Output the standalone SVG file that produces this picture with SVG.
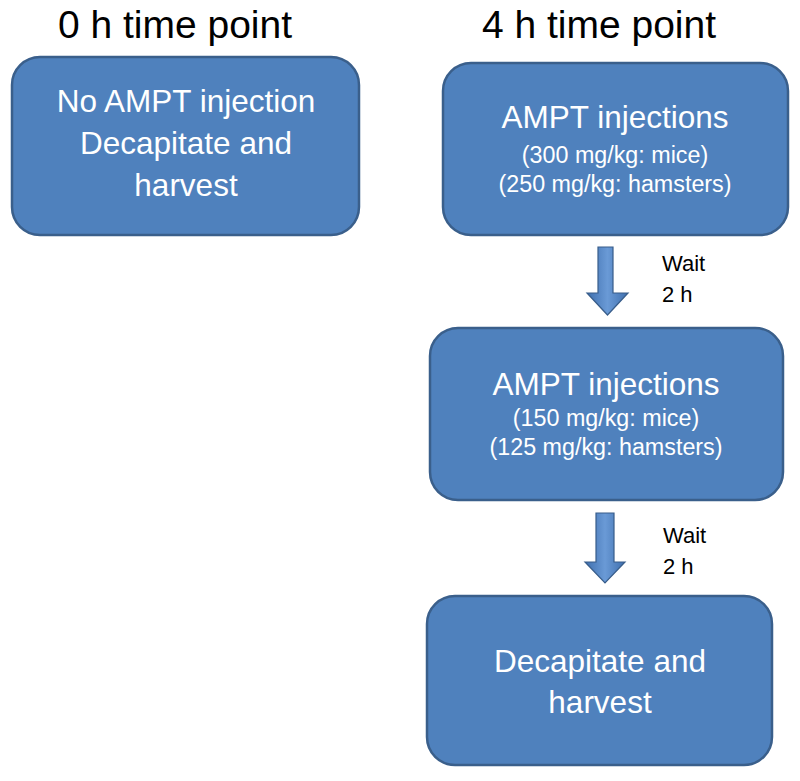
<svg xmlns="http://www.w3.org/2000/svg" width="800" height="781" viewBox="0 0 800 781">
<defs>
<linearGradient id="arrowGrad" x1="0" y1="0" x2="1" y2="0">
<stop offset="0" stop-color="#3f6fae"/>
<stop offset="0.5" stop-color="#6a9ad6"/>
<stop offset="1" stop-color="#3f6fae"/>
</linearGradient>
</defs>
<style>
.box{fill:#4f81bd;stroke:#3a5f8b;stroke-width:2.5}
.title{font-family:"Liberation Sans",Arial,sans-serif;font-size:39px;fill:#000;text-anchor:middle}
.main{font-family:"Liberation Sans",Arial,sans-serif;font-size:31.5px;fill:#fff;text-anchor:middle}
.sub{font-family:"Liberation Sans",Arial,sans-serif;font-size:23.3px;fill:#fff;text-anchor:middle}
.wait{font-family:"Liberation Sans",Arial,sans-serif;font-size:22px;fill:#000}
.arrow{fill:url(#arrowGrad);stroke:#385d8a;stroke-width:1.2}
</style>
<rect width="800" height="781" fill="#fff"/>
<text class="title" x="175" y="38">0 h time point</text>
<text class="title" x="599" y="38">4 h time point</text>
<g id="node-0h">
<rect class="box" x="12" y="57" width="347" height="178" rx="28"/>
<text class="main" x="186" y="112">No AMPT injection</text>
<text class="main" x="186" y="154">Decapitate and</text>
<text class="main" x="186" y="196">harvest</text>
</g>
<g id="node-inj1">
<rect class="box" x="443" y="63" width="345" height="172" rx="28"/>
<text class="main" x="615" y="128">AMPT injections</text>
<text class="sub" x="615" y="163">(300 mg/kg: mice)</text>
<text class="sub" x="615" y="192">(250 mg/kg: hamsters)</text>
</g>
<g id="node-inj2">
<rect class="box" x="430" y="328" width="353" height="172" rx="28"/>
<text class="main" x="606" y="395">AMPT injections</text>
<text class="sub" x="606" y="426">(150 mg/kg: mice)</text>
<text class="sub" x="606" y="455">(125 mg/kg: hamsters)</text>
</g>
<g id="node-harvest">
<rect class="box" x="427" y="596" width="345" height="169" rx="28"/>
<text class="main" x="600" y="672">Decapitate and</text>
<text class="main" x="600" y="713">harvest</text>
</g>
<g id="connectors">
<path class="arrow" d="M598,247 L613,247 L613,293 L628,293 L607.5,315 L587,293 L598,293 Z"/>
<text class="wait" x="662" y="271">Wait</text>
<text class="wait" x="662" y="302">2 h</text>
<path class="arrow" d="M596,513 L614,513 L614,562 L625,562 L605,583 L585,562 L596,562 Z"/>
<text class="wait" x="663" y="543">Wait</text>
<text class="wait" x="663" y="574">2 h</text>
</g>
</svg>
